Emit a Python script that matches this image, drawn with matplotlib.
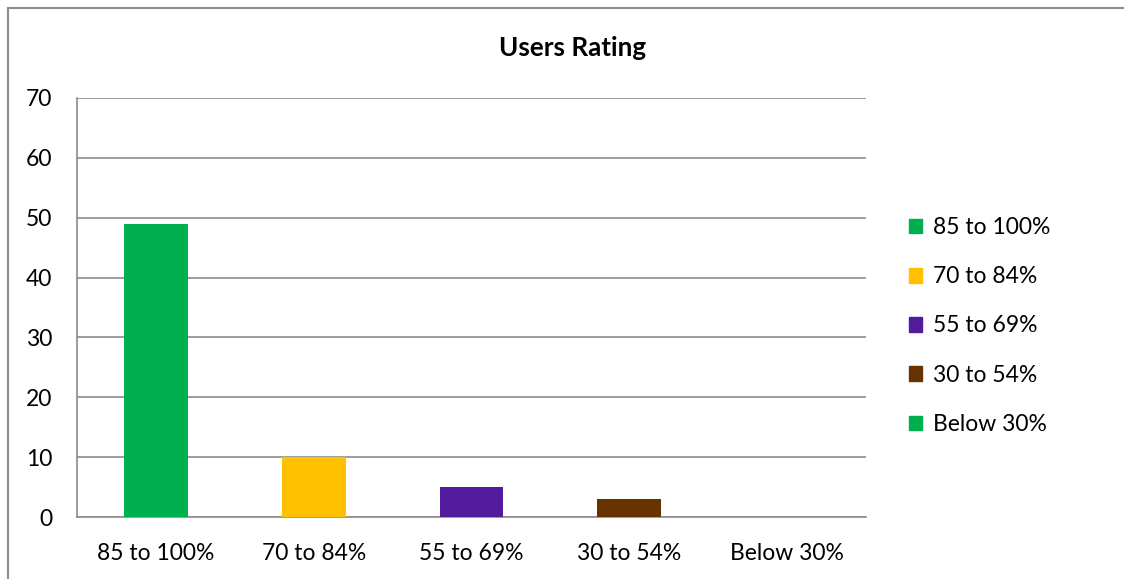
import matplotlib.pyplot as plt
from matplotlib.patches import Patch
from matplotlib.lines import Line2D

plt.rcParams['font.family'] = ['Lato', 'DejaVu Sans']

categories = ['85 to 100%', '70 to 84%', '55 to 69%', '30 to 54%', 'Below 30%']
users = [49, 10, 5, 3, 0]
colors = ['#00B050', '#FFC000', '#521B9C', '#663300', '#00B050']

fig = plt.figure(figsize=(1124 / 100, 579 / 100), dpi=100, facecolor='white', edgecolor='white',
                 linewidth=0)
ax = fig.add_axes([77 / 1124, 62 / 579, 789 / 1124, 419 / 579])

x = range(len(categories))
ax.bar(x, users, width=0.405, color=colors, zorder=3)

ax.set_xlim(-0.5, len(categories) - 0.5)
ax.set_ylim(0, 70)
ax.set_yticks(range(0, 71, 10))
ax.set_xticks(list(x))
ax.set_xticklabels(categories)
ax.tick_params(length=0, labelsize=16.5)
ax.tick_params(axis='x', pad=18.5)
ax.tick_params(axis='y', pad=18)
ax.grid(axis='y', color='#8c8c8c', linewidth=1.2, zorder=0)
for s in ['top', 'right']:
    ax.spines[s].set_visible(False)
for s in ['left', 'bottom']:
    ax.spines[s].set_color('#8c8c8c')
    ax.spines[s].set_linewidth(1.2)

fig.text(573 / 1124, 1 - 48 / 579, 'Users Rating', ha='center', va='center',
         fontsize=18.7, fontweight='bold')

handles = [Patch(color=c, label=l) for c, l in zip(colors, categories)]
fig.legend(handles=handles, loc='center left', bbox_to_anchor=(888 / 1124, 1 - 326 / 579),
           frameon=False, fontsize=16.5, handlelength=0.6, handleheight=0.6,
           handletextpad=0.45, labelspacing=1.23)

# outer chart border: only the top and left edges fall inside the image
top = 1 - 8 / 579
left = 8 / 1124
fig.add_artist(Line2D([left, 1.05], [top, top], transform=fig.transFigure,
                      color='#8c8c8c', linewidth=1.5))
fig.add_artist(Line2D([left, left], [-0.05, top], transform=fig.transFigure,
                      color='#8c8c8c', linewidth=1.5))

fig.savefig('out.png', facecolor='white')
